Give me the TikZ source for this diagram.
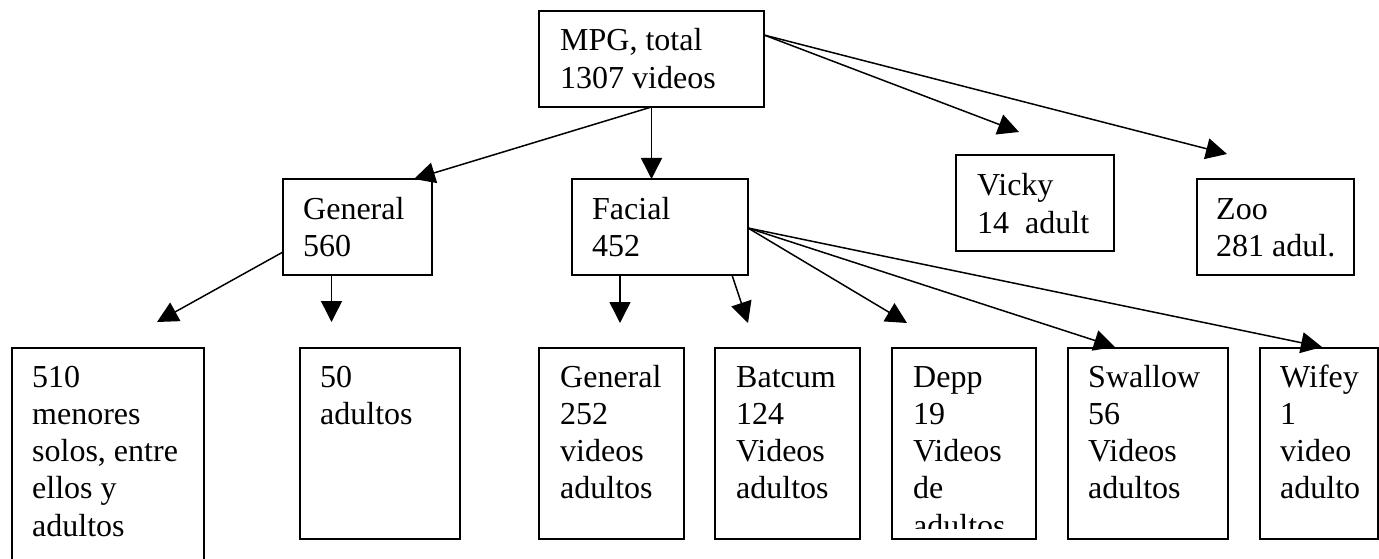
\documentclass[tikz,border=0pt]{standalone}
\usepackage{fontspec}
\setmainfont{Liberation Serif}
\usetikzlibrary{arrows.meta,calc}
\begin{document}
\begin{tikzpicture}[x=1pt,y=-1pt,
  box/.style={draw, line width=1.5pt, anchor=north west, inner sep=0pt, outer sep=0pt},
  txt/.style={anchor=base west, inner sep=0pt, font=\fontsize{32}{37.3}\selectfont},
  arr/.style={line width=1.5pt, -{Triangle[length=21pt,width=21pt]}}]
\path[use as bounding box, clip] (0,0) rectangle (1379,559);
\fill[white] (0,0) rectangle (1379,559);
% top level boxes
\node[box, minimum width=225, minimum height=96] (mpg) at (539,11) {};
\node[box, minimum width=149, minimum height=96] (gen) at (283,179) {};
\node[box, minimum width=176, minimum height=96] (fac) at (572,179) {};
\node[box, minimum width=158, minimum height=96] (vic) at (956,155) {};
\node[box, minimum width=157, minimum height=96] (zoo) at (1197,179) {};
% bottom boxes
\node[box, minimum width=192, minimum height=240] (b1) at (12,348) {};
\node[box, minimum width=160, minimum height=191] (b2) at (300,348) {};
\node[box, minimum width=145, minimum height=191] (b3) at (539,348) {};
\node[box, minimum width=145, minimum height=191] (b4) at (715,348) {};
\node[box, minimum width=144, minimum height=191] (b5) at (892,348) {};
\node[box, minimum width=160, minimum height=191] (b6) at (1068,348) {};
\node[box, minimum width=118, minimum height=191] (b7) at (1260,348) {};
% texts
\node[txt] (mpgt) at ($(mpg.north west)+(21,40)$) {\begin{tabular}[t]{@{}l@{}}MPG, total\\1307 videos\end{tabular}};
\node[txt] (gent) at ($(gen.north west)+(20,40)$) {\begin{tabular}[t]{@{}l@{}}General\\560\end{tabular}};
\node[txt] (fact) at ($(fac.north west)+(20,40)$) {\begin{tabular}[t]{@{}l@{}}Facial\\452\end{tabular}};
\node[txt] (vict) at ($(vic.north west)+(21,41)$) {\begin{tabular}[t]{@{}l@{}}Vicky\\14\ \ adult\end{tabular}};
\node[txt] (zoot) at ($(zoo.north west)+(19,40)$) {\begin{tabular}[t]{@{}l@{}}Zoo\\281 adul.\end{tabular}};
\node[txt] (b1t) at ($(b1.north west)+(20,39)$) {\begin{tabular}[t]{@{}l@{}}510\\menores\\solos, entre\\ellos y\\adultos\end{tabular}};
\node[txt] (b2t) at ($(b2.north west)+(20,39)$) {\begin{tabular}[t]{@{}l@{}}50\\adultos\end{tabular}};
\node[txt] (b3t) at ($(b3.north west)+(21,39)$) {\begin{tabular}[t]{@{}l@{}}General\\252\\videos\\adultos\end{tabular}};
\node[txt] (b4t) at ($(b4.north west)+(21,39)$) {\begin{tabular}[t]{@{}l@{}}Batcum\\124\\Videos\\adultos\end{tabular}};
\begin{scope}
\clip (892,348) rectangle (1036,528);
\node[txt] (b5t) at ($(b5.north west)+(21,39)$) {\begin{tabular}[t]{@{}l@{}}Depp\\19\\Videos\\de\\adultos\end{tabular}};
\end{scope}
\node[txt] (b6t) at ($(b6.north west)+(20,39)$) {\begin{tabular}[t]{@{}l@{}}Swallow\\56\\Videos\\adultos\end{tabular}};
\node[txt] (b7t) at ($(b7.north west)+(20,39)$) {\begin{tabular}[t]{@{}l@{}}Wifey\\1\\video\\adulto\end{tabular}};
% connector end points
\coordinate (mpgR) at (764,35);
\coordinate (facR) at (748,228);
\coordinate (genL) at (283,252);
\coordinate (tGen) at (414,179);
\coordinate (tVic) at (1019,132);
\coordinate (tZoo) at (1227,154);
\coordinate (t1) at (157,322);
\coordinate (s2) at (331.5,275);
\coordinate (t2) at (331.5,322);
\coordinate (s3) at (620,275);
\coordinate (t3) at (620,323);
\coordinate (s4) at (732,275);
\coordinate (t4) at (748,323);
\coordinate (t5) at (907,323);
\coordinate (t6) at (1115,347);
\coordinate (t7) at (1322,347);
% connectors
\draw[arr] (mpg.south) -- (tGen);
\draw[arr] (mpg.south) -- (mpg.south |- fac.north);
\draw[arr] (mpgR) -- (tVic);
\draw[arr] (mpgR) -- (tZoo);
\draw[arr] (genL) -- (t1);
\draw[arr] (s2) -- (t2);
\draw[arr] (s3) -- (t3);
\draw[arr] (s4) -- (t4);
\draw[arr] (facR) -- (t5);
\draw[arr] (facR) -- (t6);
\draw[arr] (facR) -- (t7);
\end{tikzpicture}
\end{document}
